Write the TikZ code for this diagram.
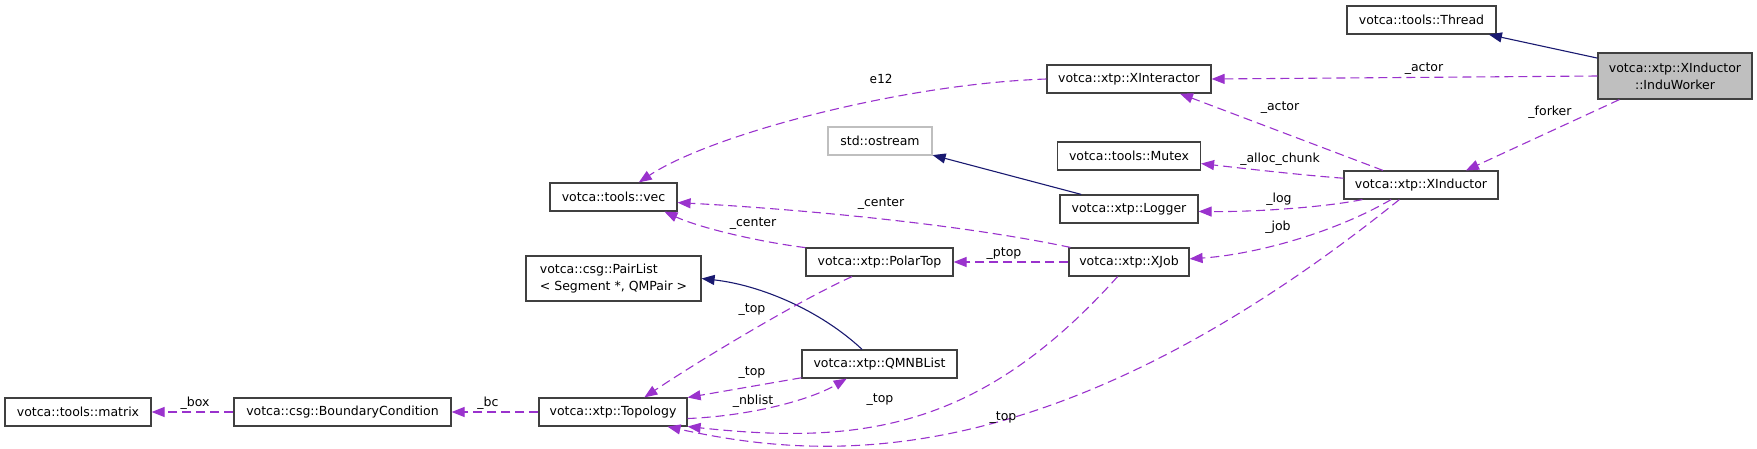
\documentclass[tikz,border=0pt]{standalone}
\usepackage{fontspec}
\setmainfont{DejaVu Sans}
\newfontfamily\labelmono{DejaVu Sans Mono}
\usetikzlibrary{arrows.meta}
\definecolor{usepurple}{HTML}{9A32CD}
\definecolor{basenavy}{HTML}{191970}
\definecolor{boxgray}{HTML}{BFBFBF}
\tikzset{
  cls/.style={draw=black!75, line width=1.2pt, minimum height=28pt, inner sep=0pt,
    font=\fontsize{12.5}{17}\selectfont},
  lbl/.style={inner sep=0pt, text height=9pt, text depth=3pt, font=\fontsize{12.5}{17}\selectfont},
  uses/.style={usepurple, line width=1.1pt, dash pattern=on 9pt off 5pt,
    -{Triangle[length=13pt,width=10pt]}},
  inherits/.style={basenavy, line width=1.1pt, -{Triangle[length=13pt,width=10pt]}},
}
\begin{document}
\begin{tikzpicture}[x=1pt,y=-1pt]
    \useasboundingbox (0,0) rectangle (1757,448);
    \node[cls, minimum width=146] (matrix) at (78,412) {votca::tools::matrix};
    \node[cls, minimum width=217] (bc) at (342.5,412) {votca::csg::BoundaryCondition};
    \node[cls, minimum width=148] (topology) at (613,412) {votca::xtp::Topology};
    \node[cls, minimum width=175, minimum height=45, align=left] (pairlist) at (613.5,278.5) {votca::csg::PairList\\< Segment *, QMPair >};
    \node[cls, minimum width=127] (vec) at (613.5,197) {votca::tools::vec};
    \node[cls, minimum width=104, draw=boxgray] (ostream) at (880,141) {std::ostream};
    \node[cls, minimum width=147] (polartop) at (879.5,262) {votca::xtp::PolarTop};
    \node[cls, minimum width=155] (qmnblist) at (879.5,364) {votca::xtp::QMNBList};
    \node[cls, minimum width=164] (xinteractor) at (1129,79) {votca::xtp::XInteractor};
    \node[cls, minimum width=143] (mutex) at (1129,156) {votca::tools::Mutex};
    \node[cls, minimum width=138] (logger) at (1129,209) {votca::xtp::Logger};
    \node[cls, minimum width=120] (xjob) at (1129,262) {votca::xtp::XJob};
    \node[cls, minimum width=149] (thread) at (1421.5,20) {votca::tools::Thread};
    \node[cls, minimum width=154] (xinductor) at (1421,185) {votca::xtp::XInductor};
    \node[cls, minimum width=154, minimum height=46, align=center, fill=boxgray] (induworker) at (1675,76) {votca::xtp::XInductor\\::InduWorker};

    \draw[inherits] (induworker.167) -- (thread);
    \draw[inherits] (logger.163) -- (ostream.345);
    \draw[inherits] (qmnblist.140) .. controls (820,310) and (760,285) .. (pairlist.east);

    \draw[uses] (induworker.west) -- (xinteractor.east);
    \draw[uses] (induworker.203) -- (xinductor.18);
    \draw[uses] (xinductor.159) -- (xinteractor.344);
    \draw[uses] (xinductor.175) .. controls (1300,175) and (1240,168) .. (mutex.354);
    \draw[uses] (xinductor.194) .. controls (1320,208) and (1250,212) .. (logger.358);
    \draw[uses] (xinductor.206) .. controls (1330,235) and (1250,255) .. (xjob.3);
    \draw[uses] (xinductor.214) .. controls (1050,480) and (820,460) .. (topology.345);
    \draw[uses] (xinteractor.west) .. controls (900,84) and (710,135) .. (vec.30);
    \draw[uses] (xjob.232) .. controls (980,430) and (860,445) .. (topology.349);
    \draw[uses] (xjob.west) -- (polartop.east);
    \draw[uses] (xjob.166) .. controls (950,222) and (780,208) .. (vec.355);
    \draw[uses] (polartop.169) .. controls (760,242) and (700,228) .. (vec.344);
    \draw[uses] (polartop.208) .. controls (800,300) and (700,360) .. (topology.25);
    \draw[uses] (qmnblist.190) -- (topology.11);
    \draw[uses] (topology.355) .. controls (750,416) and (810,400) .. (qmnblist.204);
    \draw[uses] (topology.west) -- (bc.east);
    \draw[uses] (bc.west) -- (matrix.east);

    \foreach \x/\y/\t [count=\i] in {1424/68/\_actor, 1550/112/\_forker, 1280/107/\_actor,
        1280/159/\_alloc\_chunk, 1279/199/\_log, 1278/227/\_job, 1003/417/\_top, 880/399/\_top,
        1004/253/\_ptop, 881/203/\_center, 753/223/\_center, 881/80/{\labelmono e12}, 752/372/\_top,
        753/401/\_nblist, 752/309/\_top, 488/403/\_bc, 195/403/\_box}
        \node[lbl] (lab\i) at (\x,\y) {\t};
\end{tikzpicture}
\end{document}
